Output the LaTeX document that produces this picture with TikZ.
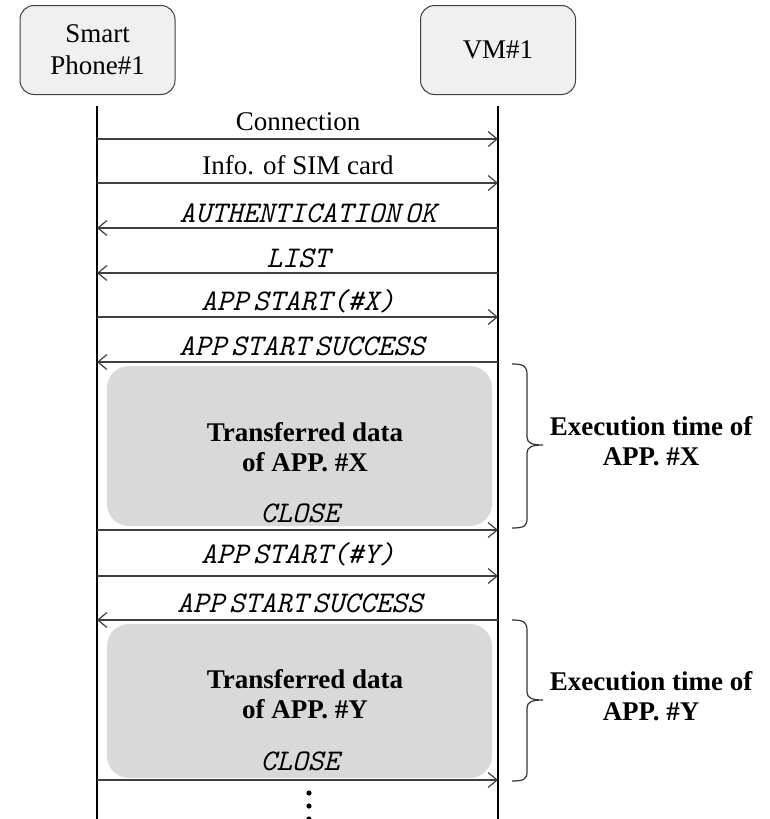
\documentclass[tikz,border=0pt]{standalone}
\usepackage{fontspec}
\setmainfont{Liberation Serif}
\newfontfamily\msgfont[WordSpace=0.3]{Latin Modern Mono}
\usetikzlibrary{arrows.meta}

\begin{document}
\begin{tikzpicture}[x=1pt,y=-1pt,
  actor/.style={draw=black!75, fill=black!6, rounded corners=14pt, line width=1pt,
    minimum width=155pt, minimum height=89pt, align=center,
    font=\fontsize{27}{32}\selectfont},
  life/.style={line width=2pt, black},
  msg/.style={draw=black!75, line width=1.4pt, -{Straight Barb[length=9pt,width=15pt,line width=1.2pt]}},
  lbl/.style={font=\fontsize{27}{30}\selectfont, anchor=base},
  ital/.style={font=\msgfont\itshape\fontsize{30}{30}\selectfont, anchor=base},
  phase/.style={fill=black!15, rounded corners=22pt},
  bold/.style={font=\bfseries\fontsize{27}{30}\selectfont, align=center},
  bracket/.style={draw=black!80, line width=1.2pt},
]
\useasboundingbox (0,0) rectangle (769,819);

% participants
\node[actor] (phone) at (97.5,50) {Smart\\Phone\#1};
\node[actor] (vm) at (498,50) {VM\#1};

% shaded execution phases
\node[phase, minimum width=385pt, minimum height=160pt] (phaseX) at (299.5,446) {};
\node[phase, minimum width=385pt, minimum height=154pt] (phaseY) at (299.5,701) {};
\node[bold] (dataX) at (305,447) {Transferred data\\of APP. \#X};
\node[bold] (dataY) at (305,694) {Transferred data\\of APP. \#Y};

% lifelines
\coordinate (lt) at (97,106);  \coordinate (lb) at (97,819);
\coordinate (rt) at (498,106); \coordinate (rb) at (498,819);
\draw[life] (lt) -- (lb);
\draw[life] (rt) -- (rb);

% message end points on both lifelines
\foreach \i/\y in {1/139,2/183,3/228,4/273,5/317,6/362,7/530,8/576,9/620,10/780}{
  \coordinate (a\i) at (97,\y);
  \coordinate (b\i) at (498,\y);
}

% messages
\draw[msg] (a1) -- (b1);
\node[lbl] (m1) at (298,130) {Connection};
\draw[msg] (a2) -- (b2);
\node[lbl] (m2) at (298,174) {Info. of SIM card};
\draw[msg] (b3) -- (a3);
\node[ital] (m3) at (308,222) {AUTHENTICATION OK};
\draw[msg] (b4) -- (a4);
\node[ital] (m4) at (298,267) {LIST};
\draw[msg] (a5) -- (b5);
\node[ital] (m5) at (298,310) {APP START(\#X)};
\draw[msg] (b6) -- (a6);
\node[ital] (m6) at (302,355) {APP START SUCCESS};
\node[ital] (m7) at (300,522) {CLOSE};
\draw[msg] (a7) -- (b7);
\draw[msg] (a8) -- (b8);
\node[ital] (m8) at (298,563) {APP START(\#Y)};
\draw[msg] (b9) -- (a9);
\node[ital] (m9) at (300,612) {APP START SUCCESS};
\node[ital] (m10) at (300,770) {CLOSE};
\draw[msg] (a10) -- (b10);

% continuation dots
\foreach \y in {793,806,819}{
  \fill (309,\y) circle (2.6pt);
}

% execution-time brackets
\draw[bracket] (512,364) .. controls (524,364) and (527,366) .. (527,375) -- (527,437)
  .. controls (527,443) and (532,445) .. (543,445)
  .. controls (532,445) and (527,447) .. (527,453) -- (527,519)
  .. controls (527,526) and (524,528) .. (512,528);
\node[bold] (execX) at (651,441) {Execution time of\\APP. \#X};

\draw[bracket] (512,620) .. controls (524,620) and (527,622) .. (527,631) -- (527,692)
  .. controls (527,698) and (532,700) .. (543,700)
  .. controls (532,700) and (527,702) .. (527,708) -- (527,772)
  .. controls (527,779) and (524,781) .. (512,781);
\node[bold] (execY) at (651,696) {Execution time of\\APP. \#Y};
\end{tikzpicture}
\end{document}
